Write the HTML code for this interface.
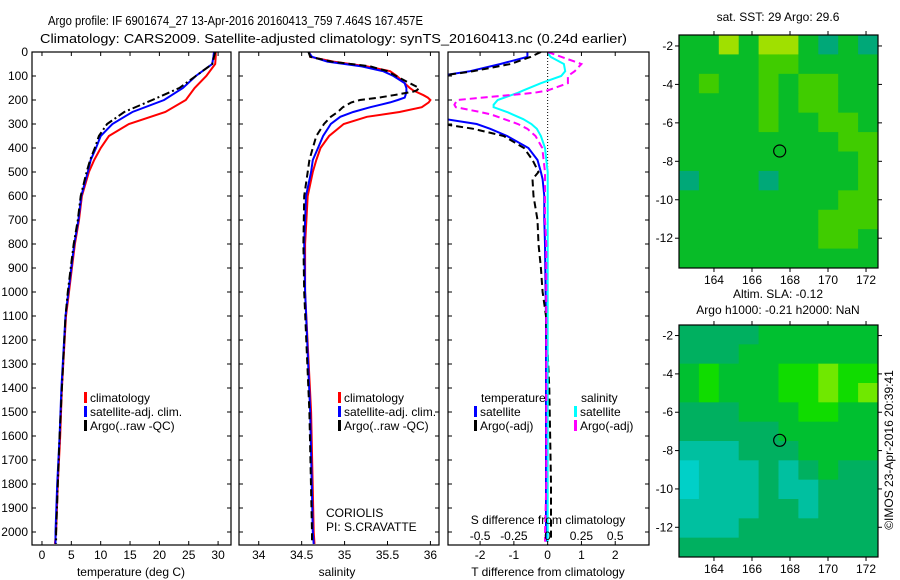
<!DOCTYPE html>
<html><head><meta charset="utf-8"><style>
html,body{margin:0;padding:0;background:#fff;}
svg{display:block;font-family:"Liberation Sans",sans-serif;}
</style></head><body>
<svg id="fig" width="900" height="580" viewBox="0 0 900 580" xmlns="http://www.w3.org/2000/svg">
<text x="48" y="25" font-size="12.5" textLength="375" lengthAdjust="spacingAndGlyphs">Argo profile: IF 6901674_27 13-Apr-2016 20160413_759 7.464S 167.457E</text>
<text x="40" y="43" font-size="12.5" textLength="587" lengthAdjust="spacingAndGlyphs">Climatology: CARS2009. Satellite-adjusted climatology: synTS_20160413.nc (0.24d earlier)</text>
<g id="plots"></g>
<text transform="translate(893,450) rotate(-90)" font-size="12" text-anchor="middle">©IMOS 23-Apr-2016 20:39:41</text>
</svg>
<script>
// ---------- DATA ----------
const tDepth = [0,20,50,100,150,200,250,300,350,400,450,500,600,700,800,900,1000,1100,1400,1600,1800,2000,2050];
const tClim  = [29.6,29.6,29.5,28,26,24.5,21,14.8,11.4,10,8.9,8,6.8,6.3,5.6,5.1,4.6,4.1,3.4,3.1,2.7,2.4,2.2];
const tSat   = [29.3,29.2,29,26.2,24,20.8,15.4,12,10,9.2,8.3,7.8,6.7,6.2,5.5,5.0,4.5,4.0,3.3,3.0,2.6,2.3,2.3];
const tArgo  = [29.5,29.3,29,26.2,23.4,18.8,14,11.1,9.7,9,8.2,7.6,6.6,6.1,5.4,4.9,4.4,4.0,3.4,3.0,2.7,2.4,2.4];
const sDepth = [0,20,40,60,80,100,130,150,160,165,180,190,200,210,230,250,270,300,350,400,450,500,600,800,1000,1500,2000,2050];
const sClim  = [34.59,34.6,34.87,35.26,35.53,35.61,35.7,35.76,35.8,35.83,35.92,35.97,36.0,35.98,35.9,35.64,35.26,34.99,34.82,34.72,34.67,34.63,34.57,34.54,34.54,34.61,34.64,34.65];
const sSat   = [34.58,34.62,34.8,35.2,35.45,35.57,35.7,35.72,35.72,35.72,35.71,35.7,35.62,35.53,35.3,35.1,34.95,34.84,34.75,34.69,34.63,34.61,34.55,34.53,34.54,34.6,34.63,34.64];
const sArgo  = [34.58,34.6,34.85,35.3,35.5,35.6,35.76,35.87,35.84,35.8,35.57,35.4,35.18,35.08,34.98,34.92,34.84,34.76,34.67,34.63,34.59,34.57,34.53,34.52,34.53,34.59,34.62,34.62];
const dDepth = [0,20,50,80,100,130,160,170,200,220,230,250,260,280,300,320,350,400,450,500,530,600,700,800,900,1000,1100,1400,1800,2000,2040];
const dTSat  = [-0.6,-0.6,-1.4,-2.3,-3.2,-3.6,-3.6,-3.6,-3.6,-3.6,-3.6,-3.6,-3.4,-3.0,-2.1,-1.7,-1.2,-0.57,-0.3,-0.2,-0.15,-0.1,-0.1,-0.08,-0.07,-0.06,-0.05,-0.05,-0.05,-0.05,-0.05];
const dTArgo = [-0.2,-0.5,-1.1,-2.2,-3.2,-3.6,-3.6,-3.6,-3.6,-3.6,-3.6,-3.6,-3.6,-3.6,-3.1,-2.2,-1.3,-0.7,-0.45,-0.27,-0.45,-0.42,-0.3,-0.27,-0.2,-0.15,-0.05,0.05,0.1,0.1,0.1];
const dSSat  = [0,0.02,0.12,0.13,0.1,-0.05,-0.18,-0.22,-0.37,-0.4,-0.4,-0.3,-0.26,-0.18,-0.12,-0.08,-0.05,-0.02,-0.01,0,0,0,0,0,0,0,0,0,0,0,0];
const dSArgo = [0,0.1,0.25,0.2,0.15,0.15,0.0,-0.1,-0.67,-0.69,-0.68,-0.5,-0.42,-0.32,-0.22,-0.15,-0.09,-0.04,-0.03,-0.02,-0.02,-0.02,-0.02,-0.01,-0.01,-0.01,-0.01,-0.01,-0.01,-0.02,-0.02];
const depthTicks = [0,100,200,300,400,500,600,700,800,900,1000,1100,1200,1300,1400,1500,1600,1700,1800,1900,2000];
const tTicks = [0,5,10,15,20,25,30];
const sTicks = [34,34.5,35,35.5,36];
const dtTicks = [-2,-1,0,1,2];
const dsTicks = [-0.5,-0.25,0,0.25,0.5];
const dsTickLabels = ["-0.5","-0.25","0","0.25","0.5"];
const lonTicks = [164,166,168,170,172];
const latTicks = [-2,-4,-6,-8,-10,-12];
const sstGrid = [
[3,3,5,3,5,5,3,2,3,2],
[3,3,3,3,4,4,3,3,3,3],
[3,4,3,3,4,3,4,4,3,3],
[3,3,3,3,4,3,4,4,3,3],
[3,3,3,3,4,3,3,4,4,3],
[3,3,3,3,3,3,3,3,4,4],
[3,3,3,3,3,3,3,3,3,4],
[2,3,3,3,2,3,3,3,3,4],
[3,3,3,3,3,3,3,3,4,4],
[3,3,3,3,3,3,3,4,4,4],
[3,3,3,3,3,3,3,4,4,3],
[3,3,3,3,3,3,3,3,3,3]];
const slaGrid = [
[2,2,2,2,3,3,3,3,3,3],
[2,2,2,3,3,3,3,3,3,3],
[3,4,3,3,3,4,4,5,4,4],
[3,4,3,3,3,4,4,5,4,5],
[2,2,2,3,3,3,4,4,3,3],
[2,2,2,2,2,3,3,3,3,3],
[1,1,1,2,2,2,3,3,3,3],
[0,1,1,1,2,1,2,3,2,2],
[0,1,1,1,2,1,1,2,2,2],
[1,1,1,1,2,2,1,2,2,2],
[1,1,1,2,2,2,2,2,2,2],
[2,2,2,2,2,2,2,2,2,2]];
const argoLon = 167.457, argoLat = -7.464;

// ---------- DRAW ----------
const NS="http://www.w3.org/2000/svg";
const root=document.getElementById('plots');
function el(tag,attrs,parent){const e=document.createElementNS(NS,tag);for(const k in attrs)e.setAttribute(k,attrs[k]);(parent||root).appendChild(e);return e;}
function txt(x,y,s,size,anchor,parent){const t=el('text',{x:x,y:y,'font-size':size,'text-anchor':anchor||'start'},parent);t.textContent=s;return t;}
const yTop=52, yBot=545;
const yD=d=>yTop+d*0.24;

function panel(name,x0,x1,xmin,xmax){
  const g=el('g',{});
  
  
  const cp=el('clipPath',{id:'cp-'+name},g);
  el('rect',{x:x0,y:yTop,width:x1-x0,height:yBot-yTop},cp);
  const sx=v=>x0+(v-xmin)/(xmax-xmin)*(x1-x0);
  return {g,sx,x0,x1,clip:'url(#cp-'+name+')'};
}
function frame(p){
  const r=el('rect',{x:p.x0,y:yTop,width:p.x1-p.x0,height:yBot-yTop,fill:'none',stroke:'#000','stroke-width':1.2},p.g);
  
  
  depthTicks.forEach(d=>{const y=yD(d);
    el('line',{x1:p.x0,x2:p.x0+4,y1:y,y2:y,stroke:'#000'},p.g);
    el('line',{x1:p.x1,x2:p.x1-4,y1:y,y2:y,stroke:'#000'},p.g);});
}
function xticks(p,ticks,labels,ly){
  ticks.forEach((v,i)=>{const x=p.sx(v);
    el('line',{x1:x,x2:x,y1:yBot,y2:yBot-4,stroke:'#000'},p.g);
    el('line',{x1:x,x2:x,y1:yTop,y2:yTop+4,stroke:'#000'},p.g);
    const t=txt(x,ly,labels?labels[i]:String(v),12,'middle',p.g);
    
    });
}
function series(p,ds,vs,color,name,dash,w){
  const pts=ds.map((d,i)=>p.sx(vs[i]).toFixed(1)+','+yD(d).toFixed(1)).join(' ');
  const l=el('polyline',{points:pts,fill:'none',stroke:color,'stroke-width':w||2,'clip-path':p.clip,'stroke-dasharray':dash||'none'},p.g);
  
  
}
function legend(p,x,y,items){
  items.forEach((it,i)=>{
    const yy=y+i*14;
    if(it.c) el('rect',{x:x,y:yy-10,width:3,height:11,fill:it.c},p.g);
    const t=txt(x+(it.c?6:0),yy,it.t,12,'start',p.g);
    
    
  });
}

// Panel 1: temperature
const p1=panel('temperature-panel',32,231,-1.7,32.2);
series(p1,tDepth,tClim,'#f00','climatology-temp-line');
series(p1,tDepth,tSat,'#00f','satellite-temp-line');
series(p1,tDepth,tArgo,'#000','argo-temp-line','8,3,2,3');
frame(p1);
xticks(p1,tTicks,null,559);
depthTicks.forEach(d=>{const t=txt(28,yD(d)+4,String(d),12,'end',p1.g);
  
  });
const xl1=txt(131,576,'temperature (deg C)',12,'middle',p1.g);


legend(p1,84,402,[{c:'#f00',t:'climatology'},{c:'#00f',t:'satellite-adj. clim.'},{c:'#000',t:'Argo(..raw -QC)'}]);

// Panel 2: salinity
const p2=panel('salinity-panel',239,439,33.77,36.1);
series(p2,sDepth,sClim,'#f00','climatology-sal-line');
series(p2,sDepth,sSat,'#00f','satellite-sal-line');
series(p2,sDepth,sArgo,'#000','argo-sal-line','7,4');
frame(p2);
xticks(p2,sTicks,null,559);
const xl2=txt(337,576,'salinity',12,'middle',p2.g);


legend(p2,338,402,[{c:'#f00',t:'climatology'},{c:'#00f',t:'satellite-adj. clim.'},{c:'#000',t:'Argo(..raw -QC)'}]);
legend(p2,326,517,[{t:'CORIOLIS'},{t:'PI: S.CRAVATTE'}]);

// Panel 3: differences
const p3=panel('difference-panel',448,649,-2.95,3.0);
const sxS=v=>p3.sx(v*4);
const zl=el('line',{x1:p3.sx(0),x2:p3.sx(0),y1:yTop,y2:yBot,stroke:'#000','stroke-dasharray':'1,2'},p3.g);


series(p3,dDepth,dTSat,'#00f','temp-diff-satellite-line');
series(p3,dDepth,dTArgo,'#000','temp-diff-argo-line','7,4');
series(p3,dDepth,dSSat.map(v=>v*4),'#0ff','sal-diff-satellite-line');
series(p3,dDepth,dSArgo.map(v=>v*4),'#f0f','sal-diff-argo-line','7,4');
frame(p3);
xticks(p3,dtTicks,null,559);
dsTicks.forEach((v,i)=>{const t=txt(sxS(v),540,dsTickLabels[i],12,'middle',p3.g);
  
  });
const sl=txt(548,524,'S difference from climatology',12,'middle',p3.g);


const tl=txt(548,576,'T difference from climatology',12,'middle',p3.g);


legend(p3,481,402,[{t:'temperature'}]);
legend(p3,474,416,[{c:'#00f',t:'satellite'},{c:'#000',t:'Argo(-adj)'}]);
legend(p3,581,402,[{t:'salinity'}]);
legend(p3,574,416,[{c:'#0ff',t:'satellite'},{c:'#f0f',t:'Argo(-adj)'}]);

// Maps
const sstColors=['#00d0c8','#00b8a0','#00a878','#08bc28','#40cc00','#a0e000'];
const slaColors=['#00d0c8','#00c0a0','#00b060','#00c030','#10dc00','#70e800'];
function map(name,y0,y1,latTop,latBot,grid,colors,title){
  const x0=679,x1=878,lonL=162.16,lonR=172.63;
  const g=el('g',{});
  
  
  const sx=v=>x0+(v-lonL)/(lonR-lonL)*(x1-x0);
  const sy=v=>y0+(latTop-v)/(latTop-latBot)*(y1-y0);
  const rows=grid.length, cols=grid[0].length;
  const cw=(x1-x0)/cols, ch=(y1-y0)/rows;
  grid.forEach((row,r)=>row.forEach((v,c)=>{
    const cell=el('rect',{x:x0+c*cw,y:y0+r*ch,width:cw+0.5,height:ch+0.5,fill:colors[v]},g);
    
    
  }));
  const fr=el('rect',{x:x0,y:y0,width:x1-x0,height:y1-y0,fill:'none',stroke:'#000','stroke-width':1.2},g);
  
  
  lonTicks.forEach(v=>{const x=sx(v);
    el('line',{x1:x,x2:x,y1:y0,y2:y0-4,stroke:'#000'},g);
    el('line',{x1:x,x2:x,y1:y1,y2:y1+4,stroke:'#000'},g);
    const t=txt(x,y1+16,String(v),12,'middle',g);
    
    });
  latTicks.forEach(v=>{const y=sy(v);
    el('line',{x1:x0,x2:x0-4,y1:y,y2:y,stroke:'#000'},g);
    el('line',{x1:x1,x2:x1+4,y1:y,y2:y,stroke:'#000'},g);
    const t=txt(x0-6,y+4,String(v),12,'end',g);
    
    });
  const c=el('circle',{cx:sx(argoLon),cy:sy(argoLat),r:6,fill:'none',stroke:'#000','stroke-width':1.2},g);
  
  
  title.forEach((s,i)=>{const t=txt(778,title.length>1?298+i*16:21,s,12,'middle',g);
    
    });
}
map('sst-map',35,268,-1.43,-13.55,sstGrid,sstColors,['sat. SST: 29 Argo: 29.6']);
map('sla-map',325,557,-1.45,-13.55,slaGrid,slaColors,['Altim. SLA: -0.12','Argo h1000: -0.21 h2000: NaN']);
</script>
</body></html>
